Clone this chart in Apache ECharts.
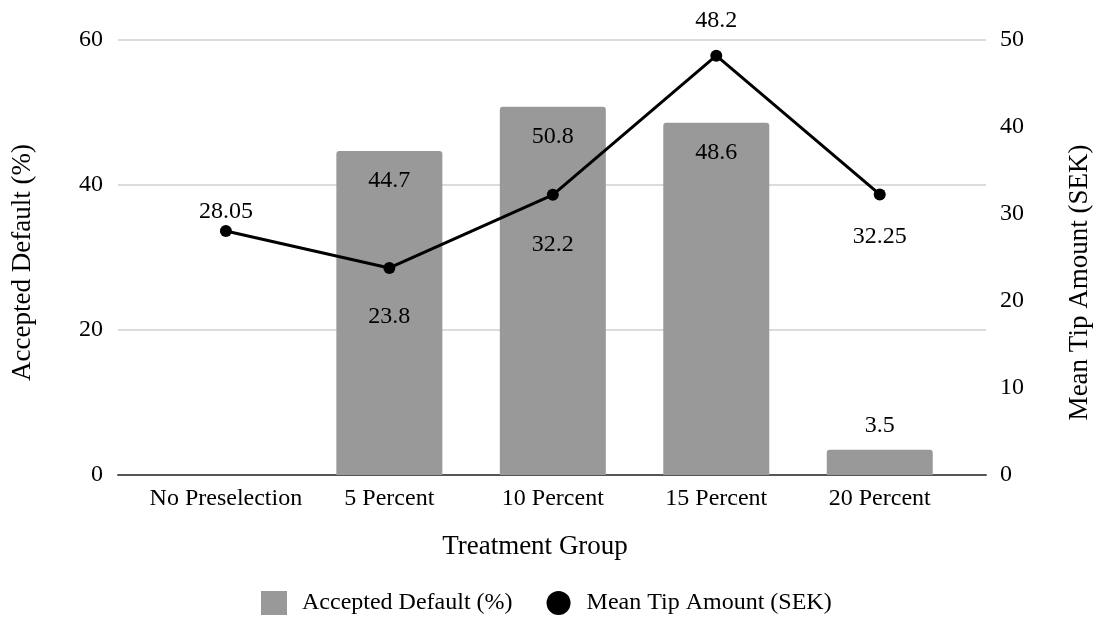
<!DOCTYPE html>
<html>
<head>
<meta charset="utf-8">
<script src="https://cdn.jsdelivr.net/npm/echarts@6/dist/echarts.min.js"></script>
<style>
  html, body { margin: 0; padding: 0; background: #fff; }
  #chart { width: 1101px; height: 621px; }
</style>
</head>
<body>
<div id="chart"></div>
<script>
// Treatment groups along the x axis
const categories = ['No Preselection', '5 Percent', '10 Percent', '15 Percent', '20 Percent'];
// Share of customers who accepted the default tip (%); no default in the first group
const acceptedDefault = [null, 44.7, 50.8, 48.6, 3.5];
// Mean tip amount in SEK
const meanTip = [28.05, 23.8, 32.2, 48.2, 32.25];
// Axis tick ranges
const leftTicks = { min: 0, max: 60, step: 20 };
const rightTicks = { min: 0, max: 50, step: 10 };

// Where each tip label sits relative to its point
const tipLabelSide = ['top', 'bottom', 'bottom', 'top', 'bottom'];
const tipLabelGap = [1, 31, 32, 17, 24];

const FONT = '"Liberation Serif", "Times New Roman", serif';
const TEXT = '#000';

const chart = echarts.init(document.getElementById('chart'), null, { renderer: 'canvas' });

const barData = [];
acceptedDefault.forEach((v, i) => {
  if (v == null) return;
  const item = { value: [i, v] };
  if (v < 10) {
    item.label = { position: 'top', distance: 12, offset: [0, 0] };
  }
  barData.push(item);
});

const lineData = meanTip.map((v, i) => ({
  value: [i, v],
  label: { position: tipLabelSide[i], distance: tipLabelGap[i] }
}));

chart.setOption({
  animation: false,
  textStyle: { fontFamily: FONT, color: TEXT },
  grid: { left: 118, right: 111, top: 40, bottom: 146 },
  legend: {
    left: 256,
    top: 586,
    itemWidth: 26,
    itemHeight: 24,
    itemGap: 34,
    textStyle: { fontFamily: FONT, fontSize: 24, color: TEXT, padding: [0, 0, 0, 10] },
    data: [
      { name: 'Accepted Default (%)', icon: 'rect' },
      { name: 'Mean Tip Amount (SEK)', icon: 'circle' }
    ]
  },
  xAxis: {
    type: 'value',
    min: -0.66,
    max: 4.65,
    name: 'Treatment Group',
    nameLocation: 'middle',
    nameGap: 58,
    nameTextStyle: { fontFamily: FONT, fontSize: 27, color: TEXT, padding: [0, 34, 0, 0] },
    axisLine: { show: true, lineStyle: { color: '#555', width: 2 } },
    axisTick: { show: false },
    splitLine: { show: false },
    axisLabel: {
      customValues: categories.map((_, i) => i),
      formatter: (v) => categories[Math.round(v)],
      fontFamily: FONT,
      fontSize: 24,
      color: TEXT,
      margin: 12
    }
  },
  yAxis: [
    {
      type: 'value',
      min: leftTicks.min,
      max: leftTicks.max,
      interval: leftTicks.step,
      name: 'Accepted Default (%)',
      nameLocation: 'middle',
      nameRotate: 90,
      nameGap: 82,
      nameTextStyle: { fontFamily: FONT, fontSize: 27, color: TEXT, padding: [0, 10, 0, 0] },
      axisLine: { show: false },
      axisTick: { show: false },
      axisLabel: { fontFamily: FONT, fontSize: 24, color: TEXT, margin: 15 },
      splitLine: { show: true, lineStyle: { color: '#cfcfcf', width: 1.5 } }
    },
    {
      type: 'value',
      min: rightTicks.min,
      max: rightTicks.max,
      interval: rightTicks.step,
      name: 'Mean Tip Amount (SEK)',
      nameLocation: 'middle',
      nameRotate: 90,
      nameGap: 80,
      nameTextStyle: { fontFamily: FONT, fontSize: 27, color: TEXT, padding: [0, 50, 0, 0] },
      axisLine: { show: false },
      axisTick: { show: false },
      axisLabel: { fontFamily: FONT, fontSize: 24, color: TEXT, margin: 14 },
      splitLine: { show: false }
    }
  ],
  series: [
    {
      name: 'Accepted Default (%)',
      type: 'bar',
      yAxisIndex: 0,
      barWidth: 106,
      data: barData,
      itemStyle: { color: '#999999', borderRadius: [3, 3, 0, 0] },
      label: {
        show: true,
        position: 'insideTop',
        offset: [0, 13],
        fontFamily: FONT,
        fontSize: 24,
        color: TEXT,
        formatter: (p) => p.value[1]
      },
      z: 2
    },
    {
      name: 'Mean Tip Amount (SEK)',
      type: 'line',
      yAxisIndex: 1,
      data: lineData,
      symbol: 'circle',
      symbolSize: 12,
      lineStyle: { color: '#000', width: 3 },
      itemStyle: { color: '#000' },
      label: {
        show: true,
        fontFamily: FONT,
        fontSize: 24,
        color: TEXT,
        formatter: (p) => p.value[1]
      },
      z: 3
    }
  ]
});
</script>
</body>
</html>
